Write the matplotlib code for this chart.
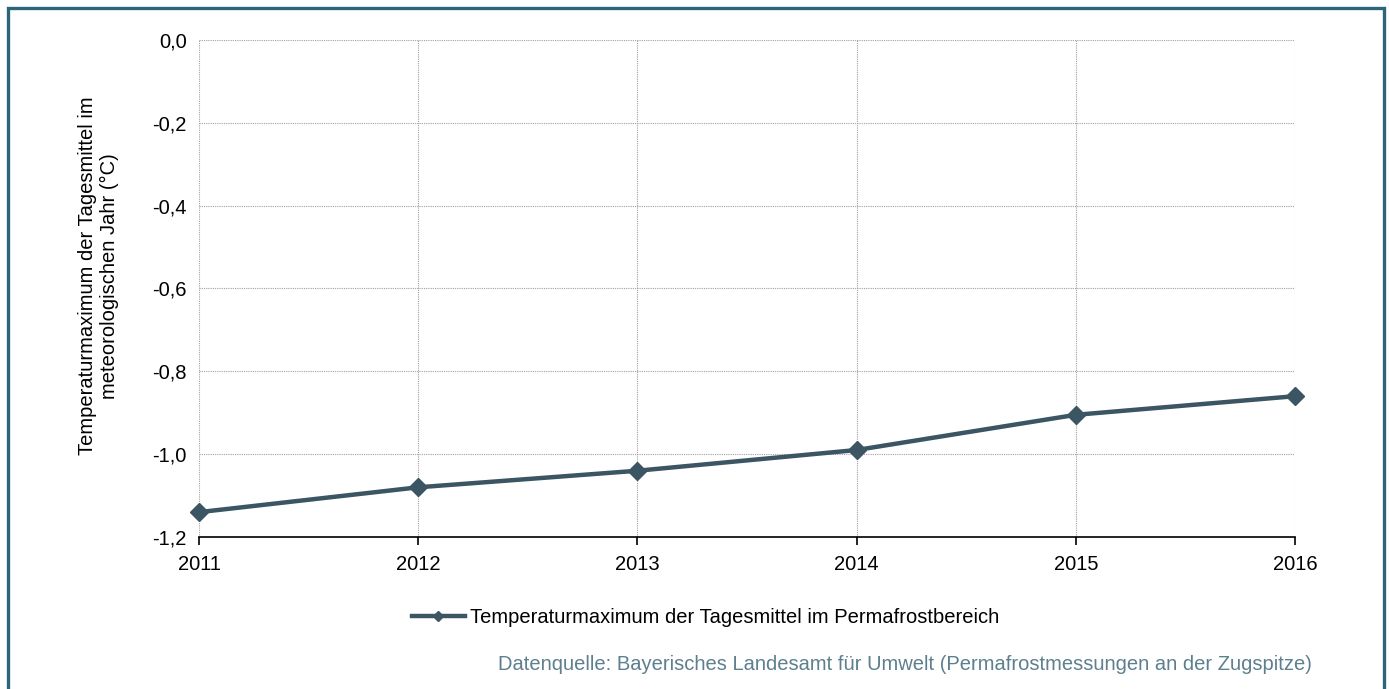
import matplotlib
matplotlib.use("Agg")
import matplotlib.pyplot as plt
from matplotlib.patches import Rectangle
from matplotlib.ticker import FuncFormatter

plt.rcParams['font.family'] = ['Liberation Sans', 'DejaVu Sans']

years = [2011, 2012, 2013, 2014, 2015, 2016]
temp_max = [-1.14, -1.08, -1.04, -0.99, -0.905, -0.86]
y_ticks = [-1.2, -1.0, -0.8, -0.6, -0.4, -0.2, 0.0]

series_label = "Temperaturmaximum der Tagesmittel im Permafrostbereich"
y_label = "Temperaturmaximum der Tagesmittel im\nmeteorologischen Jahr (°C)"
source = "Datenquelle: Bayerisches Landesamt für Umwelt (Permafrostmessungen an der Zugspitze)"

LINE_COLOR = "#3b5563"
FRAME_COLOR = "#2d6579"
SOURCE_COLOR = "#5d7f8e"
FS = 14.5

fig = plt.figure(figsize=(13.89, 6.89), dpi=100)
ax = fig.add_axes([0.1433, 0.2206, 0.7890, 0.7214])

ax.plot(years, temp_max, color=LINE_COLOR, linewidth=3.2, marker="D",
        markersize=9, label=series_label, zorder=3, clip_on=False)

ax.set_xlim(2011, 2016)
ax.set_ylim(-1.2, 0.0)
ax.set_xticks(years)
ax.set_yticks(y_ticks)
ax.yaxis.set_major_formatter(FuncFormatter(lambda v, p: f"{v:.1f}".replace(".", ",")))
ax.grid(True, color="#a0a0a0", linestyle=(0, (1, 1)), linewidth=0.8)
ax.set_axisbelow(True)

for s in ["top", "right", "left"]:
    ax.spines[s].set_visible(False)
ax.spines["bottom"].set_linewidth(1.2)
ax.tick_params(axis="x", direction="out", length=6, width=1.2, labelsize=FS, pad=7)
ax.tick_params(axis="y", length=0, labelsize=FS, pad=9)

ax.set_ylabel(y_label, fontsize=FS, linespacing=1.2)
ax.yaxis.set_label_coords(-0.073, 0.525)

handles, labels = ax.get_legend_handles_labels()
leg = fig.legend(handles, labels, loc="center", bbox_to_anchor=(0.508, 0.104),
                 frameon=False, fontsize=FS, handlelength=2.6, handletextpad=0.25,
                 markerscale=0.55)

fig.text(0.9445, 0.035, source, ha="right", va="center", fontsize=FS, color=SOURCE_COLOR)

frame = Rectangle((8 / 1389, -0.05), (1384 - 8) / 1389, 1 - 8 / 689 + 0.05,
                  transform=fig.transFigure, fill=False, edgecolor=FRAME_COLOR,
                  linewidth=2.4, clip_on=False)
fig.patches.append(frame)

fig.savefig("out.png", dpi=100)
